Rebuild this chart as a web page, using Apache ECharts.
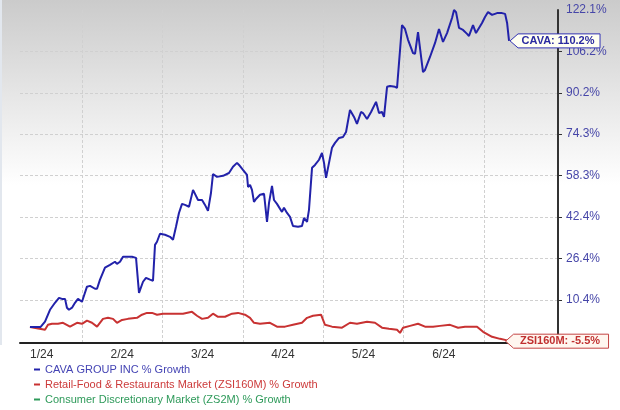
<!DOCTYPE html>
<html>
<head>
<meta charset="utf-8">
<script src="https://cdn.jsdelivr.net/npm/echarts@6/dist/echarts.min.js"></script>
<style>
html,body{margin:0;padding:0;background:#fff;}
#chart{width:620px;height:410px;}
</style>
</head>
<body>
<div id="chart"></div>
<script>
// time is measured in months since 1 Jan 2024 (0 = Jan 1, 1 = Feb 1, ...)
const monthLabels = ['1/24', '2/24', '3/24', '4/24', '5/24', '6/24'];
const yTickLabels = [10.4, 26.4, 42.4, 58.3, 74.3, 90.2, 106.2, 122.1];

const cavaName = 'CAVA GROUP INC % Growth';
const zsiName = 'Retail-Food & Restaurants Market (ZSI160M) % Growth';
const zs2Name = 'Consumer Discretionary Market (ZS2M) % Growth';

const cavaT = [0.353,0.486,0.540,0.602,0.664,0.714,0.751,0.764,0.789,0.813,0.838,0.876,0.913,0.950,1.000,1.012,1.062,1.100,1.162,1.187,1.224,1.286,1.348,1.410,1.435,1.473,1.510,1.560,1.622,1.672,1.709,1.759,1.796,1.846,1.883,1.908,1.933,1.970,2.032,2.095,2.132,2.169,2.206,2.244,2.281,2.331,2.381,2.405,2.443,2.493,2.530,2.567,2.604,2.629,2.679,2.754,2.828,2.878,2.928,2.953,3.002,3.052,3.065,3.090,3.114,3.139,3.164,3.214,3.264,3.301,3.326,3.363,3.388,3.425,3.487,3.512,3.550,3.587,3.624,3.687,3.736,3.761,3.799,3.823,3.861,3.898,3.948,3.985,4.010,4.035,4.109,4.147,4.197,4.246,4.284,4.333,4.383,4.420,4.470,4.495,4.545,4.595,4.657,4.694,4.731,4.756,4.794,4.831,4.893,4.918,4.980,5.017,5.055,5.117,5.142,5.179,5.241,5.266,5.328,5.391,5.440,5.490,5.540,5.602,5.627,5.652,5.689,5.739,5.789,5.813,5.863,5.900,5.975,6.012,6.050,6.100,6.162,6.224,6.262,6.287,6.311];
const cavaPct = [0.0,0.0,2.0,6.6,9.3,11.2,10.8,11.2,10.8,7.4,6.6,7.4,9.3,10.8,9.7,9.3,15.5,15.8,14.7,14.7,18.2,22.8,23.9,25.1,24.3,25.1,27.0,27.0,27.0,26.6,13.1,17.4,18.9,18.2,17.8,31.6,32.8,35.9,35.5,34.7,33.6,38.6,43.9,47.4,47.0,46.3,52.8,52.4,48.9,48.9,47.0,44.7,51.6,58.9,57.8,58.2,59.3,61.7,63.2,62.4,60.5,58.6,53.9,54.7,52.8,48.2,49.3,50.9,51.3,40.5,47.8,54.3,48.9,47.4,44.3,45.9,43.9,42.4,38.9,38.6,38.9,42.0,40.5,45.1,61.3,62.4,64.4,67.0,63.2,57.4,69.0,70.9,72.8,73.2,75.1,83.6,80.9,78.2,82.8,82.4,80.1,82.8,86.7,82.4,82.8,80.9,92.5,92.8,92.5,92.1,116.3,114.8,110.6,105.5,105.2,113.6,98.2,99.0,104.0,109.4,114.8,109.8,113.2,119.0,122.1,121.3,115.2,114.4,112.9,112.1,116.3,113.2,117.1,119.4,121.3,120.2,120.9,120.9,120.6,117.1,110.2];

const zsiT = [0.353,0.540,0.577,0.627,0.701,0.764,0.851,0.938,1.000,1.062,1.124,1.187,1.261,1.323,1.386,1.435,1.498,1.572,1.684,1.746,1.808,1.871,1.933,2.007,2.132,2.256,2.368,2.430,2.493,2.567,2.629,2.692,2.779,2.866,2.940,3.027,3.090,3.139,3.214,3.338,3.425,3.525,3.624,3.736,3.799,3.873,3.973,4.022,4.109,4.234,4.333,4.420,4.545,4.644,4.731,4.818,4.918,4.955,4.993,5.080,5.179,5.266,5.366,5.453,5.577,5.677,5.764,5.913,5.988,6.100,6.199,6.262,6.311];
const zsiPct = [0.0,-1.1,0.8,1.2,1.2,1.6,0.1,1.6,1.2,2.4,1.6,0.1,3.1,3.5,3.1,1.6,2.7,3.1,3.5,4.7,5.4,5.4,4.7,5.1,5.1,5.1,5.8,4.3,3.1,3.5,5.1,3.9,3.9,5.1,5.4,4.7,3.5,1.6,1.2,1.6,0.1,0.1,0.8,1.6,3.5,4.3,4.7,0.8,0.1,-0.3,1.6,1.2,2.0,1.6,-0.3,-0.7,-1.1,-2.3,-0.3,0.4,1.2,0.1,0.1,0.4,0.8,-0.3,0.1,0.1,-1.9,-3.8,-4.6,-5.0,-5.5];

const zs2T = [];
const zs2Pct = [];

const BLUE = '#2222aa', RED = '#c83232', GREEN = '#2e9a5a';
const FONT = '"Liberation Sans", Arial, sans-serif';

const pairs = (t, v) => t.map((x, i) => [x, v[i]]);
const cavaLast = [cavaT[cavaT.length - 1], cavaPct[cavaPct.length - 1]];
const zsiLast = [zsiT[zsiT.length - 1], zsiPct[zsiPct.length - 1]];
// callout outline: arrow on the left, box of width w and height 14
const callout = w => 'path://M0,7 L8,0 L' + w + ',0 L' + w + ',14 L8,14 Z';

const chart = echarts.init(document.getElementById('chart'), null, {renderer: 'canvas'});
chart.setOption({
  animation: false,
  textStyle: {fontFamily: FONT},
  color: [BLUE, RED, GREEN],
  graphic: [
    {type: 'rect', z: -100, silent: true, shape: {x: 0, y: 0, width: 620, height: 185},
     style: {fill: new echarts.graphic.LinearGradient(0, 0, 0, 1, [
       {offset: 0, color: '#cbcbcb'}, {offset: 0.55, color: '#e8e8e8'}, {offset: 1, color: '#ffffff'}])}},
    {type: 'rect', z: -99, silent: true, shape: {x: 0, y: 0, width: 2, height: 345},
     style: {fill: '#e2e7ee'}}
  ],
  grid: {left: 20, right: 62, top: 10, bottom: 67, containLabel: false},
  xAxis: {
    type: 'value', min: 0.229, max: 6.92,
    axisLine: {show: true, onZero: false, lineStyle: {color: '#222', width: 2}},
    axisTick: {show: false, customValues: monthLabels.map((_, i) => i + 1)},
    splitLine: {show: true, lineStyle: {color: '#d0d0d0', width: 1, type: [3, 2]}},
    axisLabel: {
      customValues: monthLabels.map((_, i) => i + 0.5),
      formatter: v => monthLabels[Math.floor(v)],
      color: '#333', fontSize: 12, margin: 6, fontFamily: FONT
    }
  },
  yAxis: {
    type: 'value', position: 'right', min: -6.2, max: 122.1,
    axisLine: {show: true, lineStyle: {color: '#333', width: 2}},
    axisTick: {show: true, length: 4, customValues: yTickLabels.slice(0, -1), lineStyle: {color: '#333'}},
    splitLine: {show: true, lineStyle: {color: '#d0d0d0', width: 1, type: [3, 2]}},
    axisLabel: {
      customValues: yTickLabels,
      formatter: v => v.toFixed(1) + '%',
      color: '#4646a8', fontSize: 12, margin: 8, fontFamily: FONT
    }
  },
  legend: {
    orient: 'vertical', left: 34, top: 363, itemGap: 2, padding: 0,
    itemWidth: 6, itemHeight: 2, icon: 'rect',
    textStyle: {fontSize: 11, lineHeight: 13, fontFamily: FONT},
    data: [
      {name: cavaName, textStyle: {color: '#4444b4'}},
      {name: zsiName, textStyle: {color: '#cc3a3a'}},
      {name: zs2Name, textStyle: {color: '#2e9a5a'}}
    ]
  },
  series: [
    {
      name: cavaName, type: 'line', z: 4, showSymbol: false, symbol: 'none',
      data: pairs(cavaT, cavaPct),
      lineStyle: {color: BLUE, width: 2}, itemStyle: {color: BLUE},
      markPoint: {
        symbol: callout(90), symbolSize: 90, symbolKeepAspect: true, symbolOffset: [46, 0],
        itemStyle: {color: '#fffff2', borderColor: '#3434b4', borderWidth: 1},
        label: {show: true, position: 'inside', offset: [3, 0], color: '#2a2aa0', fontWeight: 'bold',
                fontSize: 11, fontFamily: FONT, formatter: 'CAVA: ' + cavaLast[1].toFixed(1) + '%'},
        data: [{coord: cavaLast}]
      }
    },
    {
      name: zsiName, type: 'line', z: 3, showSymbol: false, symbol: 'none',
      data: pairs(zsiT, zsiPct),
      lineStyle: {color: RED, width: 2}, itemStyle: {color: RED},
      markPoint: {
        symbol: callout(103), symbolSize: 103, symbolKeepAspect: true, symbolOffset: [48, 0],
        itemStyle: {color: '#fff6ef', borderColor: '#c44444', borderWidth: 1},
        label: {show: true, position: 'inside', offset: [3, 0], color: '#c03030', fontWeight: 'bold',
                fontSize: 11, fontFamily: FONT, formatter: 'ZSI160M: ' + zsiLast[1].toFixed(1) + '%'},
        data: [{coord: zsiLast}]
      }
    },
    {
      name: zs2Name, type: 'line', z: 2, showSymbol: false, symbol: 'none',
      data: pairs(zs2T, zs2Pct),
      lineStyle: {color: GREEN, width: 2}, itemStyle: {color: GREEN}
    }
  ]
});
</script>
</body>
</html>
